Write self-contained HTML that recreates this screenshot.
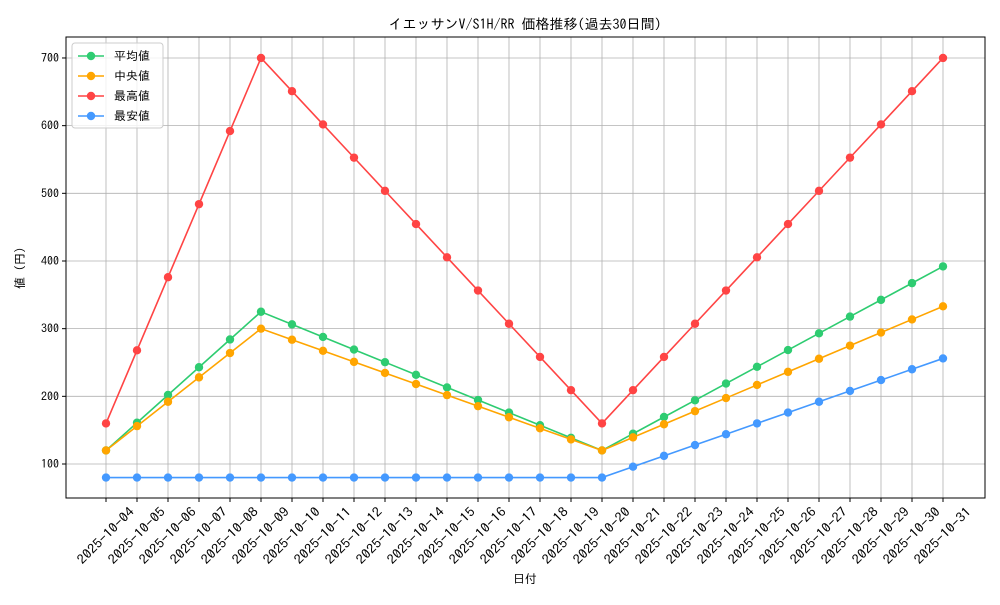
<!DOCTYPE html>
<html><head><meta charset="utf-8"><style>
html,body{margin:0;padding:0;background:#fff;}
svg text{font-family:"IPAGothic","Noto Sans CJK JP","DejaVu Sans",sans-serif;fill:#000;}
</style></head><body>
<svg id="s" width="1000" height="600" xmlns="http://www.w3.org/2000/svg"></svg>
<script>
const s=document.getElementById('s');
const L=66,R=985,T=37,B=498;
const x=i=>106+i*31.0;
const y=v=>464-(v-100)*0.6767;
let h='<rect width="1000" height="600" fill="#fff"/>';
for(let i=0;i<28;i++){h+=`<line x1="${x(i)}" y1="${T}" x2="${x(i)}" y2="${B}" stroke="#b0b0b0" stroke-width="0.8"/>`;}
for(let v=100;v<=700;v+=100){h+=`<line x1="${L}" y1="${y(v)}" x2="${R}" y2="${y(v)}" stroke="#b0b0b0" stroke-width="0.8"/>`;
h+=`<line x1="${L-4}" y1="${y(v)}" x2="${L}" y2="${y(v)}" stroke="#000"/>`;
h+=`<text x="${L-7}" y="${y(v)+4}" font-size="12" text-anchor="end">${v}</text>`;}
h+=`<rect x="${L}" y="${T}" width="${R-L}" height="${B-T}" fill="none" stroke="#000" stroke-width="1"/>`;
for(let i=0;i<28;i++){
 const d=4+i;
 h+=`<line x1="${x(i)}" y1="${B}" x2="${x(i)}" y2="${B+4}" stroke="#000"/>`;
 h+=`<text transform="translate(${x(i)},${B+38}) rotate(-45)" font-size="13" text-anchor="middle" dy="4" textLength="74" lengthAdjust="spacingAndGlyphs">2025-10-${String(d).padStart(2,'0')}</text>`;
}
const mx=[],mn=[],av=[],md=[];
for(let i=0;i<28;i++){
 if(i<=5)mx.push(160+108*i); else if(i<=16)mx.push(700-(540/11)*(i-5)); else mx.push(160+(540/11)*(i-16));
 mn.push(i<=16?80:80+16*(i-16));
 if(i<=5)av.push(120+41*i); else if(i<=16)av.push(325-(205/11)*(i-5)); else av.push(120+(272/11)*(i-16));
 if(i<=5)md.push(120+36*i); else if(i<=16)md.push(300-(180/11)*(i-5)); else md.push(120+(213/11)*(i-16));
}
const ser=[[av,'#2ecc71'],[md,'#ffa500'],[mx,'#ff4444'],[mn,'#4499ff']];
for(const [d,c] of ser){
 h+=`<polyline fill="none" stroke="${c}" stroke-width="1.6" points="${d.map((v,i)=>x(i)+','+y(v)).join(' ')}"/>`;
 d.forEach((v,i)=>h+=`<circle cx="${x(i)}" cy="${y(v)}" r="4.2" fill="${c}"/>`);
}
h+=`<text x="525" y="29" font-size="14" text-anchor="middle">イエッサンV/S1H/RR 価格推移(過去30日間)</text>`;
h+=`<text x="525" y="583" font-size="12" text-anchor="middle">日付</text>`;
h+=`<text transform="translate(24,268) rotate(-90)" font-size="12" text-anchor="middle">値 (円)</text>`;
h+=`<rect x="72" y="43" width="91" height="85" rx="3" fill="#fff" fill-opacity="0.8" stroke="#ccc"/>`;
const names=['平均値','中央値','最高値','最安値'];
ser.forEach(([d,c],k)=>{const yy=56+k*20;
 h+=`<line x1="78" y1="${yy}" x2="104" y2="${yy}" stroke="${c}" stroke-width="1.6"/><circle cx="91" cy="${yy}" r="4.2" fill="${c}"/>`;
 h+=`<text x="114" y="${yy+4}" font-size="12">${names[k]}</text>`;});
s.innerHTML=h;
</script>
</body></html>
